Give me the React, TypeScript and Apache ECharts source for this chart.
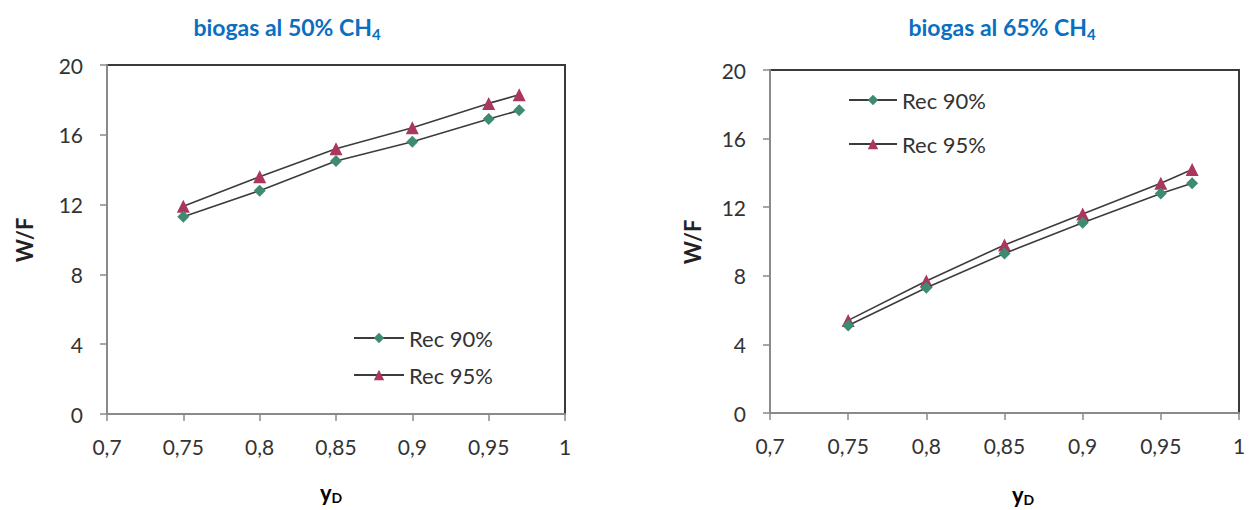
import React, { useEffect, useRef } from "react";
import * as echarts from "echarts";

// Methane fraction in product (x axis) for both panels
const yD = [0.75, 0.8, 0.85, 0.9, 0.95, 0.97];

// Panel 1: biogas al 50% CH4
const rec90_50 = [11.3, 12.8, 14.5, 15.6, 16.9, 17.4];
const rec95_50 = [11.9, 13.6, 15.2, 16.4, 17.8, 18.3];

// Panel 2: biogas al 65% CH4
const rec90_65 = [5.1, 7.3, 9.3, 11.1, 12.8, 13.4];
const rec95_65 = [5.4, 7.7, 9.8, 11.6, 13.4, 14.2];

const seriesNames = ["Rec 90%", "Rec 95%"];
const panelTitles = ["biogas al 50% CH", "biogas al 65% CH"];

const FONT = "Lato, 'Noto Sans', sans-serif";
const LINE = "#3c3c3c";
const GREEN = "#3f8a72";
const RED = "#ab3660";
const BLUE = "#0a6fc0";

const pairs = (ys: number[]) => yD.map((x, i) => [x, ys[i]]);

const fmtX = (v: number) => String(Math.round(v * 100) / 100).replace(".", ",");

function makeXAxis(gridIndex: number) {
  return {
    type: "value",
    gridIndex,
    min: 0.7,
    max: 1,
    interval: 0.05,
    splitLine: { show: false },
    axisLine: { show: true, lineStyle: { color: "#8a8a8a", width: 2 } },
    axisTick: { show: true, length: 7, lineStyle: { color: "#8a8a8a", width: 1.5 } },
    axisLabel: {
      formatter: fmtX,
      color: "#333",
      fontFamily: FONT,
      fontSize: 21,
      margin: 22,
      showMinLabel: true,
      showMaxLabel: true,
    },
  };
}

function makeYAxis(gridIndex: number) {
  return {
    type: "value",
    gridIndex,
    min: 0,
    max: 20,
    interval: 4,
    splitLine: { show: false },
    axisLine: { show: true, lineStyle: { color: "#8a8a8a", width: 2 } },
    axisTick: { show: true, length: 7, lineStyle: { color: "#8a8a8a", width: 1.5 } },
    axisLabel: {
      color: "#333",
      fontFamily: FONT,
      fontSize: 21,
      margin: 24,
    },
  };
}

function makeSeries(name: string, ys: number[], idx: number, diamond: boolean) {
  return {
    type: "line",
    name,
    xAxisIndex: idx,
    yAxisIndex: idx,
    data: pairs(ys),
    symbol: diamond ? "diamond" : "triangle",
    symbolSize: diamond ? 12 : 13,
    showAllSymbol: true,
    lineStyle: { color: LINE, width: 1.6 },
    itemStyle: { color: diamond ? GREEN : RED },
    z: diamond ? 3 : 2,
  };
}

const richSub = {
  main: { fontFamily: FONT, fontSize: 23, fontWeight: "bold", color: BLUE, lineHeight: 28 },
  sub: {
    fontFamily: FONT,
    fontSize: 15,
    fontWeight: "bold",
    color: BLUE,
    lineHeight: 15,
    verticalAlign: "bottom",
  },
};

const richAxis = {
  main: { fontFamily: FONT, fontSize: 22, fontWeight: "bold", color: "#222", lineHeight: 24 },
  sub: {
    fontFamily: FONT,
    fontSize: 14,
    fontWeight: "bold",
    color: "#222",
    lineHeight: 14,
    verticalAlign: "bottom",
  },
};

function legendItem(name: string, left: number, top: number, width: number) {
  return {
    data: [name],
    left,
    top,
    orient: "horizontal",
    itemWidth: width,
    itemHeight: 13,
    selectedMode: false,
    textStyle: { fontFamily: FONT, fontSize: 22, color: "#333" },
  };
}

export default function App() {
  const ref = useRef<HTMLDivElement>(null);

  useEffect(() => {
    if (!ref.current) return;
    const chart = echarts.init(ref.current, null, { renderer: "svg" });

    chart.setOption({
      animation: false,
      backgroundColor: "#ffffff",
      title: [
        {
          text: `{main|${panelTitles[0]}}{sub|4}`,
          left: 282,
          top: 8,
          textAlign: "center",
          textStyle: { rich: richSub },
        },
        {
          text: `{main|${panelTitles[1]}}{sub|4}`,
          left: 997,
          top: 8,
          textAlign: "center",
          textStyle: { rich: richSub },
        },
      ],
      grid: [
        {
          left: 107,
          top: 65,
          width: 458,
          height: 349,
          show: true,
          borderColor: "#3a3a3a",
          borderWidth: 2,
          backgroundColor: "transparent",
        },
        {
          left: 770,
          top: 70,
          width: 469,
          height: 343,
          show: true,
          borderColor: "#3a3a3a",
          borderWidth: 2,
          backgroundColor: "transparent",
        },
      ],
      xAxis: [makeXAxis(0), makeXAxis(1)],
      yAxis: [makeYAxis(0), makeYAxis(1)],
      legend: [
        legendItem(seriesNames[0], 348, 322, 50),
        legendItem(seriesNames[1], 348, 359, 50),
        legendItem(seriesNames[0], 843, 84, 48),
        legendItem(seriesNames[1], 843, 128, 48),
      ],
      series: [
        makeSeries(seriesNames[0], rec90_50, 0, true),
        makeSeries(seriesNames[1], rec95_50, 0, false),
        makeSeries(seriesNames[0], rec90_65, 1, true),
        makeSeries(seriesNames[1], rec95_65, 1, false),
      ],
      graphic: [
        {
          type: "text",
          x: 24,
          y: 240,
          rotation: Math.PI / 2,
          style: {
            text: "W/F",
            font: `bold 22px ${FONT}`,
            fill: "#222",
            align: "center",
            verticalAlign: "middle",
          },
        },
        {
          type: "text",
          x: 692,
          y: 242,
          rotation: Math.PI / 2,
          style: {
            text: "W/F",
            font: `bold 22px ${FONT}`,
            fill: "#222",
            align: "center",
            verticalAlign: "middle",
          },
        },
        {
          type: "text",
          x: 331,
          y: 492,
          style: {
            text: "{main|y}{sub|D}",
            rich: richAxis,
            align: "center",
            verticalAlign: "middle",
          },
        },
        {
          type: "text",
          x: 1023,
          y: 494,
          style: {
            text: "{main|y}{sub|D}",
            rich: richAxis,
            align: "center",
            verticalAlign: "middle",
          },
        },
      ],
    });

    return () => chart.dispose();
  }, []);

  return (
    <div
      ref={ref}
      style={{ position: "absolute", left: 0, top: 0, width: 1259, height: 510 }}
    />
  );
}
